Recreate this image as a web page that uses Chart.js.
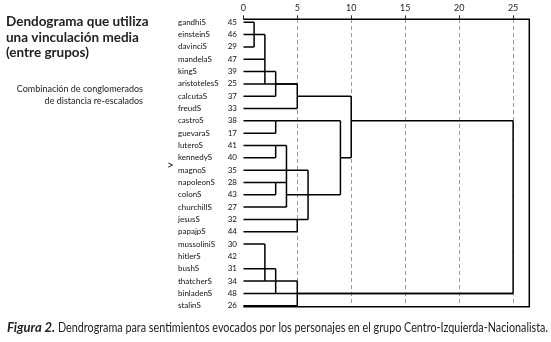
<!DOCTYPE html>
<html><head><meta charset="utf-8">
<script src="https://cdn.jsdelivr.net/npm/chart.js@4"></script>
<style>html,body{margin:0;padding:0;background:#fff}#wrap{position:relative;width:551px;height:342px}</style>
</head><body><div id="wrap"><canvas id="c" width="551" height="342"></canvas></div>
<script>
// ---- data ----
const leafNames = ["gandhiS","einsteinS","davinciS","mandelaS","kingS","aristotelesS","calcutaS","freudS",
  "castroS","guevaraS","luteroS","kennedyS","magnoS","napoleonS","colonS","churchillS","jesusS","papajpS",
  "mussoliniS","hitlerS","bushS","thatcherS","binladenS","stalinS"];
const leafIds = [45,46,29,47,39,25,37,33,38,17,41,40,35,28,43,27,32,44,30,42,31,34,48,26];
const xTicks = [0,5,10,15,20,25];
// merge heights (rescaled distance), children (leaf row number or "m#"), row on which the merged cluster continues
const mergeHeight = [1, 2, 3, 5, 3, 3, 3, 4, 5, 6, 9, 10, 2, 3, 5, 25];
const mergeKids = [
  [0,1,2], ["m0",3,5], [4,6], ["m1","m2",7],
  [8,9], [10,11], [13,14], ["m5","m6",15], [16,17], [12,"m7","m8"], ["m4","m9"], ["m3","m10"],
  [18,21], [20,22], ["m12",23], ["m11","m13","m14"]
];
const mergeRow = [1, 5, 5, 6, 8, 10, 13, 14, 16, 14, 11, 8, 21, 22, 22, null];
const titleLines = ["Dendograma que utiliza","una vinculación media","(entre grupos)"];
const subtitleLines = ["Combinación de conglomerados","de distancia re-escalados"];
const captionBold = "Figura 2.";
const captionText = " Dendrograma para sentimientos evocados por los personajes en el grupo Centro-Izquierda-Nacionalista.";

// ---- build segments from the tree ----
const segments = [];
mergeKids.forEach((kids, m) => {
  const h = mergeHeight[m];
  const rows = [];
  kids.forEach(k => {
    let row, start;
    if (typeof k === "number") { row = k; start = 0; }
    else { const j = +k.slice(1); row = mergeRow[j]; start = mergeHeight[j]; }
    rows.push(row);
    segments.push([{x:start,y:row},{x:h,y:row}]);
  });
  segments.push([{x:h,y:Math.min(...rows)},{x:h,y:Math.max(...rows)}]);
});

const FONT = "Lato, 'Open Sans', sans-serif";
const textPlugin = {
  id: "texts",
  afterDraw(chart) {
    const ctx = chart.ctx, ys = chart.scales.y, a = chart.chartArea;
    ctx.save();
    ctx.strokeStyle = "#000"; ctx.lineWidth = 1.5;
    ctx.beginPath();
    ctx.moveTo(a.left, a.top); ctx.lineTo(a.right, a.top); ctx.lineTo(a.right, a.bottom); ctx.lineTo(a.left, a.bottom);
    ctx.stroke();
    ctx.fillStyle = "#111";
    ctx.textBaseline = "middle";
    ctx.font = "8px " + FONT;
    leafNames.forEach((n, i) => {
      const y = ys.getPixelForValue(i);
      ctx.textAlign = "left"; ctx.fillText(n, 178, y);
      ctx.textAlign = "right"; ctx.fillText(String(leafIds[i]), 237, y);
    });
    ctx.textAlign = "left"; ctx.font = "12px " + FONT;
    ctx.fillText(">", 167, ys.getPixelForValue(11.6));
    ctx.textBaseline = "alphabetic";
    ctx.fillStyle = "#222";
    ctx.font = "bold 13.5px " + FONT;
    titleLines.forEach((t, i) => ctx.fillText(t, 6, 26 + i * 15.5));
    ctx.font = "9px " + FONT; ctx.textAlign = "right";
    subtitleLines.forEach((t, i) => ctx.fillText(t, 143, 92 + i * 12));
    ctx.textAlign = "left";
    ctx.font = "italic bold 13px " + FONT;
    ctx.fillText(captionBold, 7, 332);
    const w = ctx.measureText(captionBold).width;
    ctx.font = "13px " + FONT;
    ctx.fillText(captionText, 7 + w, 332, 548 - 7 - w);
    ctx.restore();
  }
};

new Chart(document.getElementById("c"), {
  type: "scatter",
  data: { datasets: segments.map(s => ({ data: s, showLine: true, borderColor: "#000", borderWidth: 1.5,
    pointRadius: 0, pointHoverRadius: 0, fill: false, tension: 0 })) },
  options: {
    responsive: false, animation: false, events: [],
    layout: { padding: { left: 243.3, right: 21.7, bottom: 35.3, top: 0 } },
    plugins: { legend: { display: false }, tooltip: { enabled: false } },
    scales: {
      x: {
        type: "linear", position: "top", min: 0, max: 26.5,
        afterBuildTicks: s => { s.ticks = xTicks.map(v => ({ value: v })); },
        afterFit: s => { s.height = 19.3; },
        ticks: { font: { size: 9, family: FONT }, color: "#222", padding: 2, maxRotation: 0 },
        grid: { color: c => (c.tick && c.tick.value === 0) ? "rgba(0,0,0,0)" : "#9a9a9a", lineWidth: 1,
          tickColor: "#333", tickLength: 4, tickBorderDash: [], drawTicks: true },
        border: { display: false, dash: [4, 3] }
      },
      y: { type: "linear", display: false, reverse: true, min: -0.24, max: 23.08 }
    }
  },
  plugins: [textPlugin]
});
</script></body></html>
